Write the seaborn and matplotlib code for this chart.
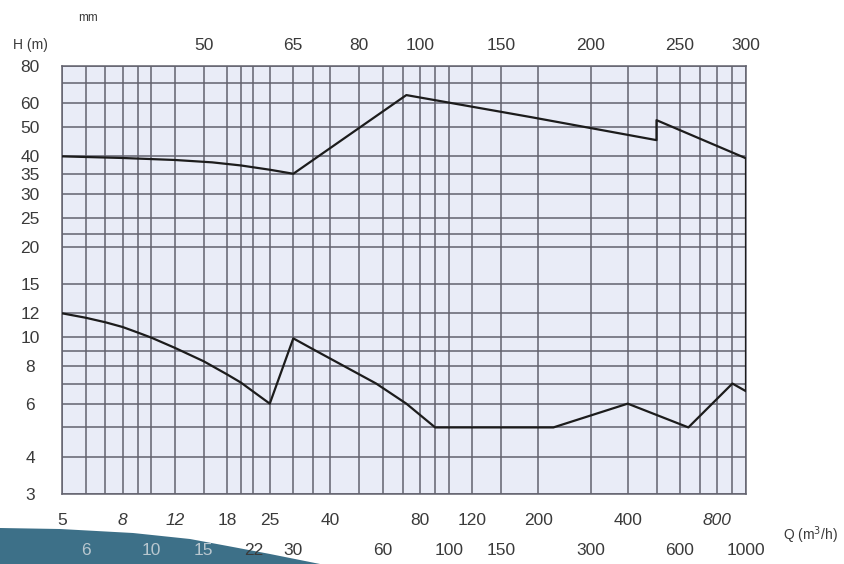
import matplotlib
matplotlib.use("Agg")
import matplotlib.pyplot as plt
import matplotlib.ticker as mticker
from matplotlib.patches import Polygon
import seaborn as sns
import pandas as pd

# ---------------- data ----------------
q_upper = [5, 8, 12, 16, 20, 25, 30, 72, 190, 500, 500, 1000]
h_upper = [40, 39.5, 38.9, 38.2, 37.3, 36.1, 35, 64, 54, 45.3, 52.8, 39.4]

q_lower = [5, 6, 7, 8, 9, 10, 12, 15, 18, 20, 25, 30, 35, 57, 72, 90, 225, 400, 640, 900, 1000]
h_lower = [12, 11.6, 11.2, 10.8, 10.35, 9.95, 9.2, 8.3, 7.5, 7.05, 6.0, 9.9, 9.1, 7.0, 6.0, 5.0,
           5.0, 6.0, 5.0, 7.0, 6.6]

x_grid = [5, 6, 7, 8, 9, 10, 12, 15, 18, 20, 22, 25, 30, 35, 40, 50, 60, 70, 80, 90,
          100, 120, 150, 200, 300, 400, 500, 600, 700, 800, 900, 1000]
y_grid = [3, 4, 5, 6, 7, 8, 9, 10, 12, 15, 20, 22, 25, 30, 35, 40, 50, 60, 70, 80]

y_ticks = [3, 4, 6, 8, 10, 12, 15, 20, 25, 30, 35, 40, 50, 60, 80]
x_row1 = [5, 8, 12, 18, 25, 40, 80, 120, 200, 400, 800]
x_row2 = [6, 10, 15, 22, 30, 60, 100, 150, 300, 600, 1000]
x_row1_italic = [8, 12, 800]

mm_labels = ["50", "65", "80", "100", "150", "200", "250", "300"]
mm_positions = [15, 30, 50, 80, 150, 300, 600, 1000]

# ---------------- style ----------------
sns.set_theme(style="white")
plt.rcParams["font.family"] = ["Liberation Sans", "DejaVu Sans"]
TXT = "#3a3a3a"
GRID = "#62626e"

W, H = 845, 564
fig = plt.figure(figsize=(W / 100, H / 100), dpi=100)
fig.patch.set_facecolor("white")
ax = fig.add_axes([62 / W, 1 - 494 / H, (746 - 62) / W, (494 - 66) / H])
ax.set_facecolor("#e9ecf7")

df_u = pd.DataFrame({"Q": q_upper, "H": h_upper})
df_l = pd.DataFrame({"Q": q_lower, "H": h_lower})
sns.lineplot(data=df_u, x="Q", y="H", ax=ax, sort=False, estimator=None,
             color="#1c1c1c", lw=1.6, zorder=5)
sns.lineplot(data=df_l, x="Q", y="H", ax=ax, sort=False, estimator=None,
             color="#1c1c1c", lw=1.6, zorder=5)
# right edge closing the envelope
sns.lineplot(x=[q_upper[-1], q_lower[-1]], y=[h_upper[-1], h_lower[-1]], ax=ax,
             sort=False, estimator=None, color="#1c1c1c", lw=1.6, zorder=5)

ax.set_xscale("log")
ax.set_yscale("log")
ax.set_xlim(5, 1000)
ax.set_ylim(3, 80)

# grid lines (major + minor together cover every grid value)
ax.xaxis.set_minor_locator(mticker.FixedLocator(x_grid))
ax.yaxis.set_minor_locator(mticker.FixedLocator(y_grid))
ax.xaxis.set_minor_formatter(mticker.NullFormatter())
ax.yaxis.set_minor_formatter(mticker.NullFormatter())
ax.set_xticks(x_row1)
ax.set_xticklabels([str(v) for v in x_row1])
ax.set_yticks(y_ticks)
ax.set_yticklabels([str(v) for v in y_ticks])
ax.grid(True, which="both", color=GRID, lw=1.1)
ax.set_axisbelow(True)

ax.tick_params(which="both", length=0)
ax.tick_params(axis="x", pad=13.5, labelsize=12.5, labelcolor=TXT)
ax.tick_params(axis="y", pad=23, labelsize=12.5, labelcolor=TXT)
for lab in ax.get_yticklabels():
    lab.set_ha("center")
for v, lab in zip(x_row1, ax.get_xticklabels()):
    if v in x_row1_italic:
        lab.set_style("italic")
ax.set_xlabel("")
ax.set_ylabel("")
for s in ax.spines.values():
    s.set_color(GRID)
    s.set_linewidth(1.1)

# second row of bottom labels
light = {6, 10, 15}
for v in x_row2:
    ax.text(v, -0.133, str(v), transform=ax.get_xaxis_transform(),
            ha="center", va="center", fontsize=12.5,
            color="#b9c7cf" if v in light else TXT, zorder=10, clip_on=False)

# top mm axis
top = ax.secondary_xaxis("top")
top.set_xticks(mm_positions)
top.set_xticklabels(mm_labels)
top.xaxis.set_minor_locator(mticker.NullLocator())
top.tick_params(length=0, pad=9, labelsize=12.5, labelcolor=TXT)
top.spines["top"].set_visible(False)

fig.text(88 / W, 1 - 18 / H, "mm", ha="center", va="center", fontsize=8.5,
         color=TXT)
fig.text(30 / W, 1 - 45 / H, "H (m)", ha="center", va="center", fontsize=10,
         color=TXT)
fig.text(810 / W, 1 - 535 / H, "Q (m$^3$/h)", ha="center", va="center",
         fontsize=10, color=TXT)

# decorative swoosh bottom-left (drawn beneath the axes and texts)
pts = [(0, 528), (60, 529), (133, 533), (190, 539), (233, 547), (270, 554),
       (300, 560), (320, 564), (0, 564)]
swoosh = Polygon([(x / W, 1 - y / H) for x, y in pts], closed=True,
                 transform=fig.transFigure, facecolor="#3d7088",
                 edgecolor="none", zorder=-1)
fig.patches.append(swoosh)

fig.savefig("out.png", dpi=100)
